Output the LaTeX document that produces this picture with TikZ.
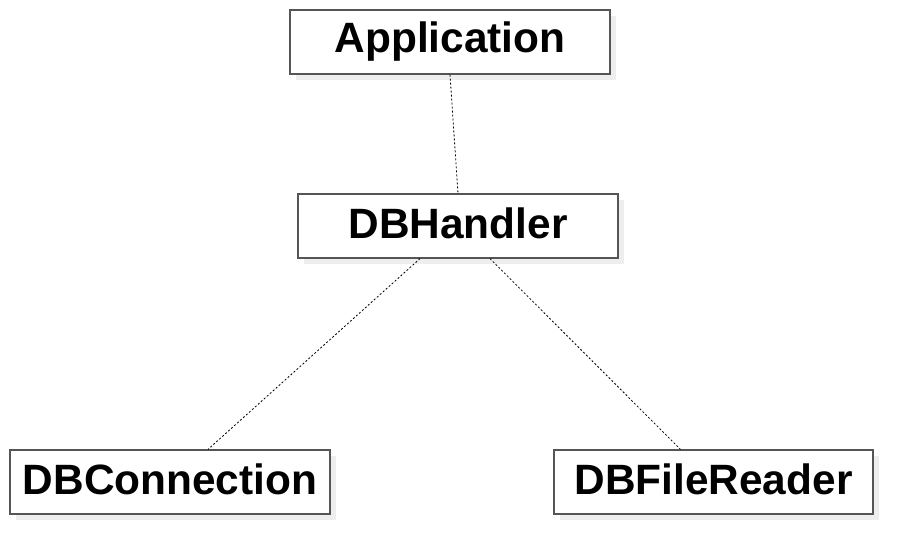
\documentclass[tikz,border=0pt]{standalone}
\usepackage{fontspec}
\setmainfont{Liberation Sans}
\usetikzlibrary{shadows,calc}
\definecolor{boxline}{HTML}{555555}
\definecolor{shadowc}{HTML}{EEEEEE}
\newcommand{\clsname}[1]{\raisebox{4pt}{#1}}
\tikzset{
  cls/.style={draw=boxline, line width=0.9pt, fill=white, minimum width=240pt, minimum height=48pt,
    inner sep=0pt, font=\fontsize{31.8}{36}\selectfont\bfseries,
    drop shadow={shadow xshift=4.5pt, shadow yshift=-4.5pt, fill=shadowc, opacity=1}},
  dep/.style={draw=black, line width=0.6pt, dash pattern=on 1.5pt off 1.5pt}
}
\begin{document}
\begin{tikzpicture}[x=0.75pt,y=-0.75pt]
\useasboundingbox (0,0) rectangle (913,554);
\node[cls] (app) at (450,42) {\clsname{Application}};
\node[cls] (h) at (458,226) {\clsname{DBHandler}};
\node[cls] (c) at (170,482) {\clsname{DBConnection}};
\node[cls, minimum width=239.25pt] (f) at (713.5,482) {\clsname{DBFileReader}};
\draw[dep] (app.south) -- (h.north);
\draw[dep] ($(h.south)+(-38,0)$) -- ($(c.north)+(38,0)$);
\draw[dep] ($(h.south)+(32,0)$) -- ($(f.north)+(-33,0)$);
\end{tikzpicture}
\end{document}
